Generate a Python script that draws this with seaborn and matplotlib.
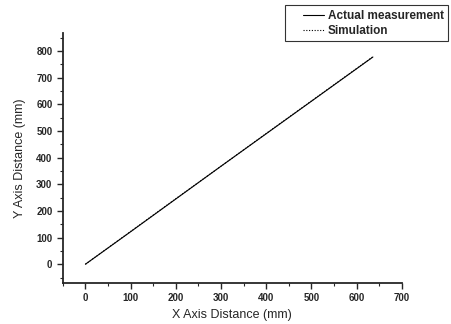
import matplotlib
matplotlib.use("Agg")
import matplotlib.pyplot as plt
import seaborn as sns
import pandas as pd
from matplotlib.ticker import MultipleLocator
from matplotlib.legend_handler import HandlerLine2D

# data
x_mm = [0, 100, 200, 300, 400, 500, 636]
actual_y = [0, 122, 245, 368, 490, 612, 778]
sim_y = [0, 123, 246, 368, 491, 613, 779]

df = pd.DataFrame({
    "x": x_mm + x_mm,
    "y": actual_y + sim_y,
    "series": ["Actual measurement"] * len(x_mm) + ["Simulation"] * len(x_mm),
})

sns.set_style("ticks")
plt.rcParams['font.family'] = ['Liberation Sans', 'DejaVu Sans']

fig = plt.figure(figsize=(4.52, 3.24), dpi=100)
ax = fig.add_axes([0.139, 0.127, 0.750, 0.771])

sns.lineplot(data=df, x="x", y="y", hue="series", style="series",
             palette=["black", "black"], dashes=[(None, None), (1, 1.5)],
             linewidth=0.8, ax=ax, legend=False)

ax.set_xlim(-50, 700)
ax.set_ylim(-70, 868)
ax.xaxis.set_major_locator(MultipleLocator(100))
ax.xaxis.set_minor_locator(MultipleLocator(50))
ax.yaxis.set_major_locator(MultipleLocator(100))
ax.yaxis.set_minor_locator(MultipleLocator(50))
ax.tick_params(which="major", direction="out", length=4, width=1, labelsize=7)
ax.tick_params(which="minor", direction="out", length=2, width=0.8)
for lab in ax.get_xticklabels() + ax.get_yticklabels():
    lab.set_fontweight("bold")
for s in ["left", "bottom"]:
    ax.spines[s].set_linewidth(1.3)
sns.despine(ax=ax)

ax.set_xlabel("X Axis Distance (mm)", fontsize=9, labelpad=4)
ax.set_ylabel("Y Axis Distance (mm)", fontsize=9, labelpad=7)

h1, = ax.plot([], [], color="black", lw=0.8)
h2, = ax.plot([], [], color="black", lw=0.8, ls=(0, (1, 1.5)))
leg = fig.legend([h1, h2], ["Actual measurement", "Simulation"],
                 loc="upper left", bbox_to_anchor=(285 / 452, 1 - 5 / 324),
                 frameon=True, fancybox=False, handlelength=2.9,
                 borderpad=0.4, labelspacing=0.25, handletextpad=0.3,
                 borderaxespad=0.0,
                 handler_map={h1: HandlerLine2D(xpad=1.1),
                              h2: HandlerLine2D(xpad=1.1)},
                 prop={"weight": "bold", "size": 8.5})
leg.get_frame().set_edgecolor("black")
leg.get_frame().set_linewidth(0.8)

fig.savefig("out.png", dpi=100)
